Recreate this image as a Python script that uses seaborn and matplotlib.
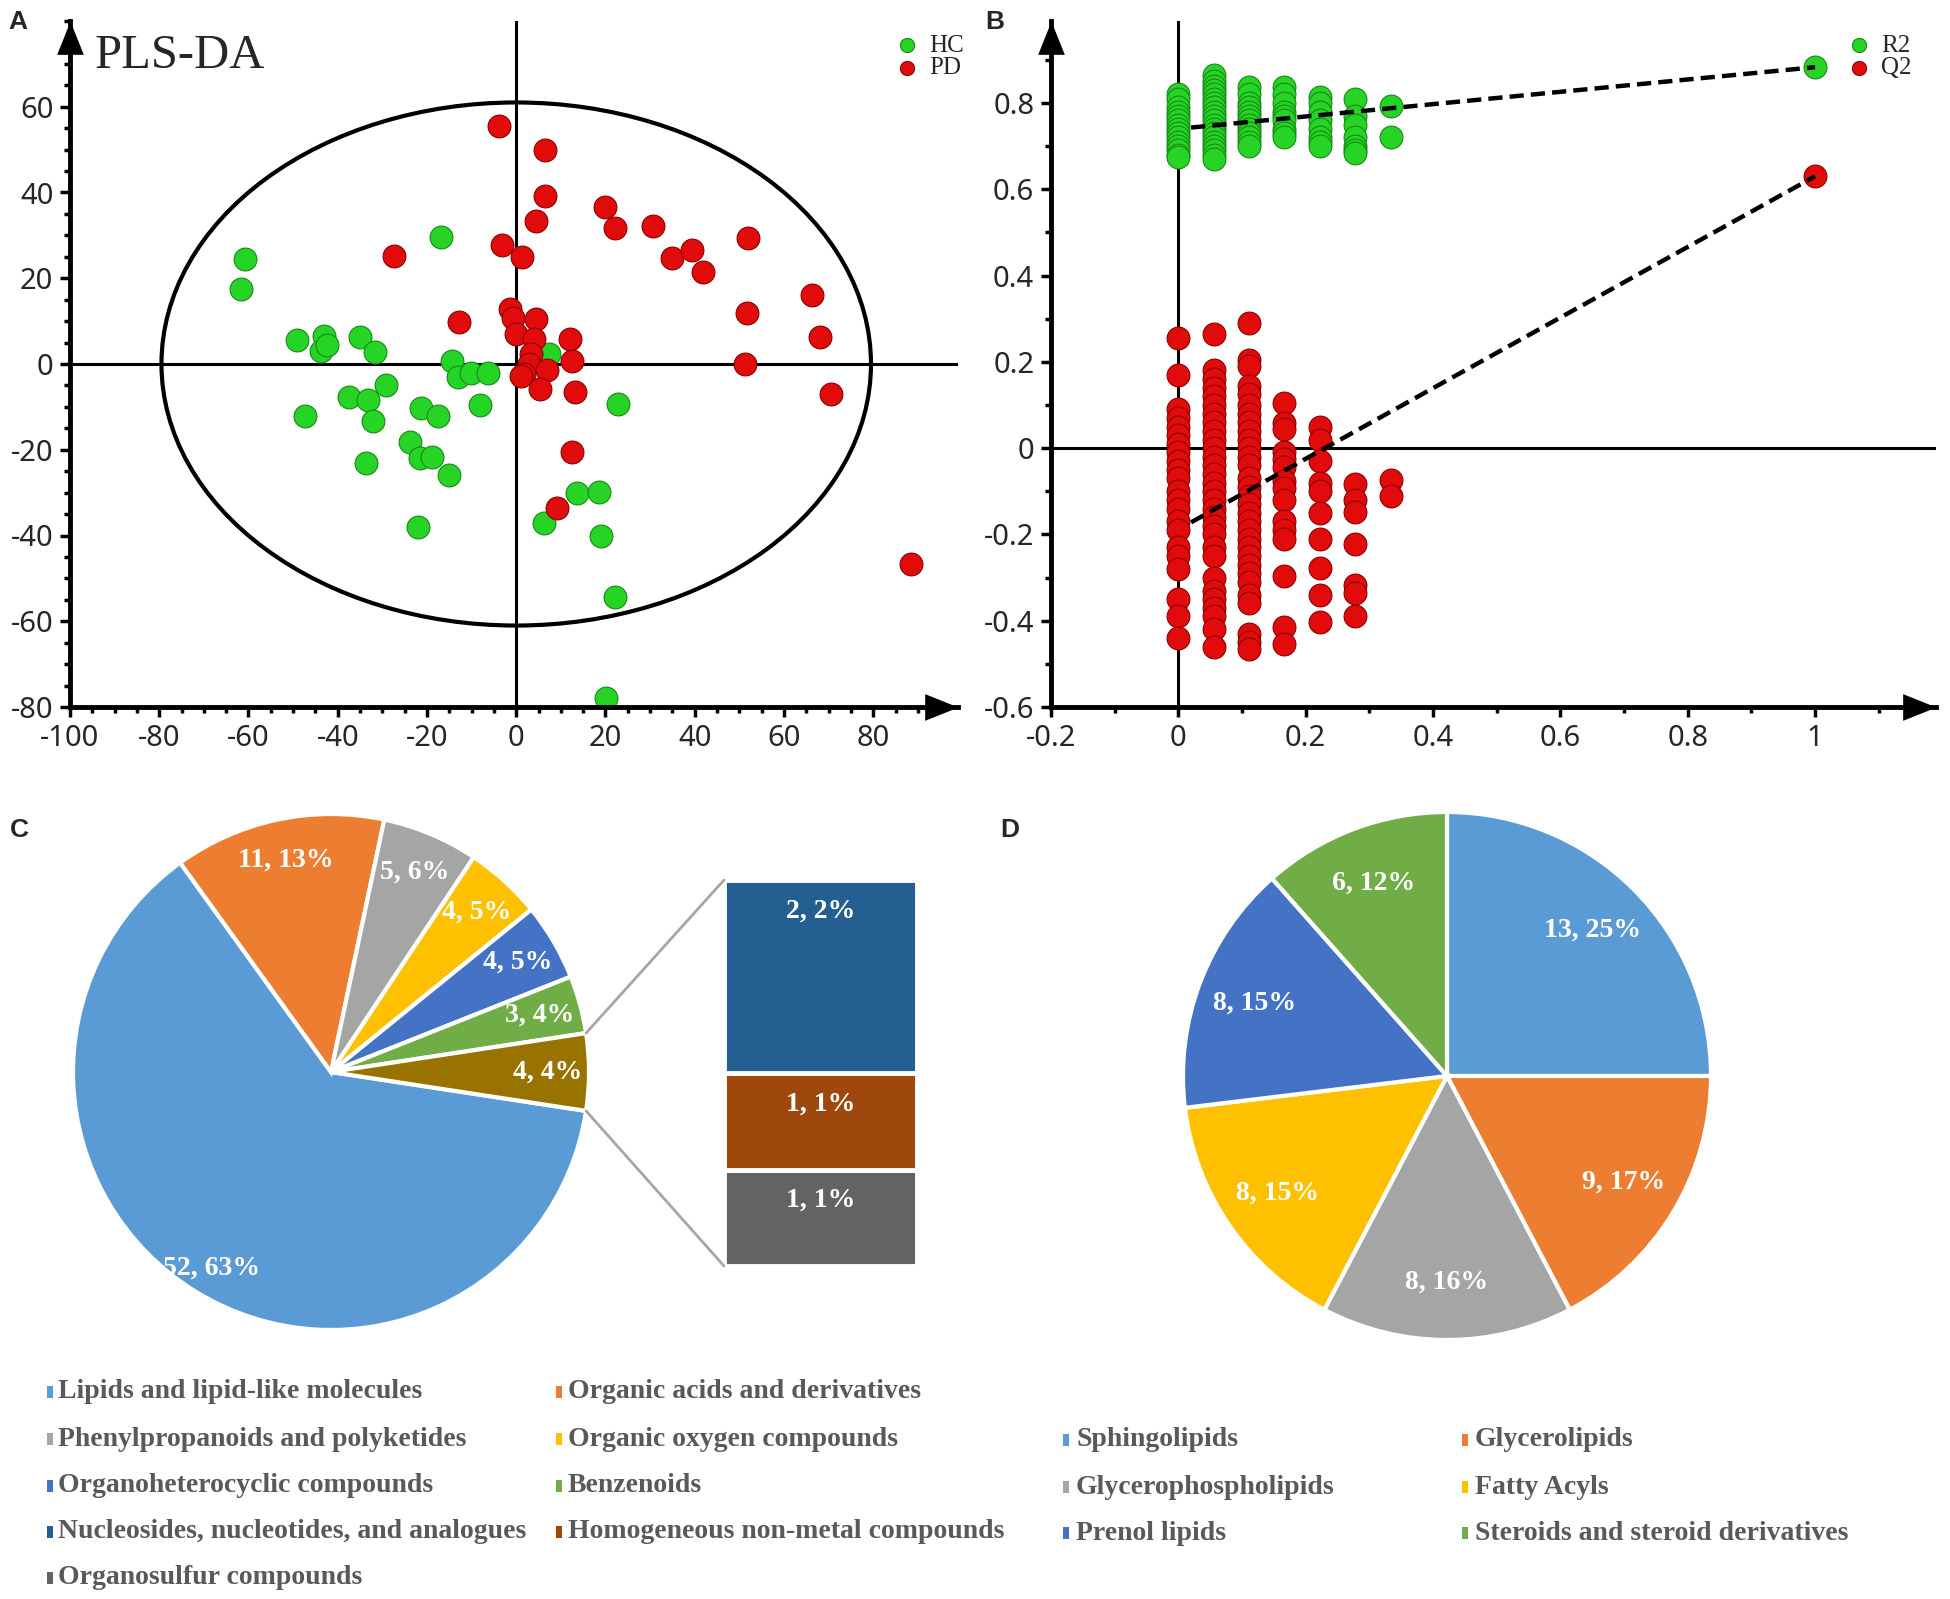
import numpy as np
import pandas as pd
import matplotlib
matplotlib.use('Agg')
import matplotlib.pyplot as plt
import seaborn as sns
from matplotlib.patches import Ellipse, ConnectionPatch, Rectangle
from matplotlib.ticker import FixedLocator, MultipleLocator, FuncFormatter

W, H = 1950, 1599

# ---------------- panel A: PLS-DA scores
hc_t1 = [-60.8, -61.7, -16.9, -49.2, -43.1, -43.8, -42.5, -35.1, -31.6, -14.5,
         -13.0, -10.2, -6.3, 7.4, -29.1, -37.5, -33.3, -47.3, -32.2, -21.4,
         -17.6, -8.1, 22.7, -23.8, -21.5, -18.9, -15.1, -33.6, -22.1, 13.6,
         18.5, 6.3, 18.9, 22.1, 20.1]
hc_t2 = [24.5, 17.6, 29.7, 5.7, 6.6, 3.0, 4.4, 6.2, 2.7, 0.6,
         -3.1, -2.2, -2.2, 2.4, -5.0, -7.8, -8.5, -12.2, -13.4, -10.3,
         -12.2, -9.5, -9.4, -18.3, -22.0, -21.7, -25.8, -23.1, -38.0, -30.1,
         -29.9, -37.1, -40.1, -54.3, -77.8]
pd_t1 = [-3.9, 6.4, 6.4, 4.5, 19.9, 22.2, 30.6, 34.8, 39.4, 41.8,
         52.0, -27.4, -3.1, 1.4, 66.3, 51.7, 68.1, 51.3, 70.5, -12.9,
         -1.5, -0.8, -0.1, 4.5, 3.9, 3.4, 2.8, 1.7, 1.1, 6.9,
         5.3, 12.0, 12.4, 13.1, 12.4, 9.2, 88.4]
pd_t2 = [55.6, 49.9, 39.1, 33.3, 36.6, 31.7, 32.1, 24.8, 26.5, 21.4,
         29.4, 25.3, 27.8, 25.0, 16.0, 12.0, 6.4, 0.0, -6.9, 9.7,
         12.9, 10.8, 7.1, 10.6, 5.8, 2.3, 0.0, -2.3, -2.8, -1.4,
         -5.8, 5.8, 0.6, -6.5, -20.6, -33.5, -46.7]
ellipse_ax = (79.5, 61.0)

# ---------------- panel B: permutation test
perm_x = [0.0, 0.0556, 0.1111, 0.1667, 0.2222, 0.2778, 0.3333, 1.0]
r2_c0 = [0.82, 0.81, 0.79, 0.78, 0.77, 0.76, 0.75, 0.74, 0.73, 0.72, 0.71, 0.70, 0.69, 0.68, 0.675]
r2_c1 = [0.864, 0.85, 0.84, 0.83, 0.82, 0.81, 0.80, 0.79, 0.78, 0.77, 0.76, 0.75, 0.74,
         0.73, 0.72, 0.71, 0.70, 0.69, 0.68, 0.67]
r2_c2 = [0.836, 0.82, 0.80, 0.79, 0.78, 0.77, 0.76, 0.75, 0.74, 0.73, 0.72, 0.71, 0.70]
r2_c3 = [0.838, 0.82, 0.80, 0.78, 0.77, 0.76, 0.74, 0.73, 0.72]
r2_c4 = [0.815, 0.80, 0.78, 0.76, 0.74, 0.72, 0.71, 0.70]
r2_c5 = [0.81, 0.77, 0.75, 0.72, 0.70, 0.69, 0.685]
r2_c6 = [0.793, 0.722]
r2_c7 = [0.883]
q2_c0 = [0.255, 0.17, 0.09, 0.07, 0.05, 0.03, 0.01, -0.01, -0.03, -0.05, -0.07, -0.10,
         -0.12, -0.14, -0.17, -0.19, -0.23, -0.25, -0.28, -0.35, -0.39, -0.44]
q2_c1 = [0.265, 0.18, 0.16, 0.14, 0.12, 0.10, 0.08, 0.06, 0.04, 0.02, 0.0, -0.02, -0.04,
         -0.06, -0.08, -0.10, -0.12, -0.14, -0.16, -0.18, -0.20, -0.23, -0.25, -0.30,
         -0.33, -0.35, -0.37, -0.39, -0.42, -0.46]
q2_c2 = [0.29, 0.205, 0.19, 0.145, 0.125, 0.10, 0.08, 0.06, 0.04, 0.02, 0.0, -0.02, -0.04,
         -0.07, -0.09, -0.11, -0.13, -0.15, -0.17, -0.19, -0.21, -0.23, -0.25, -0.27,
         -0.29, -0.31, -0.34, -0.36, -0.43, -0.45, -0.465]
q2_c3 = [0.104, 0.059, 0.045, -0.01, -0.026, -0.043, -0.077, -0.093, -0.12, -0.17,
         -0.19, -0.21, -0.296, -0.414, -0.454]
q2_c4 = [0.05, 0.02, -0.03, -0.08, -0.10, -0.15, -0.21, -0.277, -0.34, -0.403]
q2_c5 = [-0.082, -0.12, -0.147, -0.223, -0.318, -0.335, -0.39]
q2_c6 = [-0.073, -0.11]
q2_c7 = [0.63]
r2_line_x = [0.02, 1.0]
r2_line_y = [0.743, 0.883]
q2_line_x = [0.02, 1.0]
q2_line_y = [-0.172, 0.63]

# ---------------- panel C: superclass composition
c_names = ['Lipids and lipid-like molecules', 'Organic acids and derivatives',
           'Phenylpropanoids and polyketides', 'Organic oxygen compounds',
           'Organoheterocyclic compounds', 'Benzenoids',
           'Nucleosides, nucleotides, and analogues', 'Homogeneous non-metal compounds',
           'Organosulfur compounds']
c_pie_counts = [52, 11, 5, 4, 4, 3]
c_pie_pct = [63, 13, 6, 5, 5, 4]
c_bar_counts = [2, 1, 1]
c_bar_pct = [2, 1, 1]
c_other_pct = 4
c_colors = ['#5B9BD5', '#ED7D31', '#A5A5A5', '#FFC000', '#4472C4', '#70AD47',
            '#255E91', '#9E480E', '#636363']
c_other_color = '#997300'

# ---------------- panel D: lipid classes
d_names = ['Sphingolipids', 'Glycerolipids', 'Glycerophospholipids', 'Fatty Acyls',
           'Prenol lipids', 'Steroids and steroid derivatives']
d_counts = [13, 9, 8, 8, 8, 6]
d_pct = [25, 17, 16, 15, 15, 12]
d_colors = ['#5B9BD5', '#ED7D31', '#A5A5A5', '#FFC000', '#4472C4', '#70AD47']

sns.set_theme(style='white')
plt.rcParams['font.family'] = ['Noto Sans', 'DejaVu Sans']
plt.rcParams['axes.unicode_minus'] = False

SERIF = 'Liberation Serif'
fig = plt.figure(figsize=(W / 100, H / 100), dpi=100)
fig.patch.set_facecolor('white')

# arrow head shapes, tip at the anchor point
UP_HEAD = [(-0.4, -1.0), (0.4, -1.0), (0.0, 0.0), (-0.4, -1.0)]
RIGHT_HEAD = [(-1.0, -0.4), (-1.0, 0.4), (0.0, 0.0), (-1.0, -0.4)]


def px_axes(left, top, right, bottom):
    return fig.add_axes([left / W, 1 - bottom / H, (right - left) / W, (bottom - top) / H])


def style_axes(ax, xmaj, ymaj, xminor, yminor):
    for side in ['top', 'right']:
        ax.spines[side].set_visible(False)
    for side in ['left', 'bottom']:
        ax.spines[side].set_linewidth(3.5)
        ax.spines[side].set_color('black')
        ax.spines[side].set_zorder(5)
    ax.set_facecolor('white')
    ax.xaxis.set_major_locator(FixedLocator(xmaj))
    ax.yaxis.set_major_locator(FixedLocator(ymaj))
    ax.xaxis.set_minor_locator(MultipleLocator(xminor))
    ax.yaxis.set_minor_locator(MultipleLocator(yminor))
    fmt = FuncFormatter(lambda v, p: '{:g}'.format(round(v, 6)))
    ax.xaxis.set_major_formatter(fmt)
    ax.yaxis.set_major_formatter(fmt)
    ax.tick_params(which='both', direction='out', width=2.5, color='black',
                   labelcolor='#262626', labelsize=21, bottom=True, left=True,
                   top=False, right=False)
    ax.tick_params(which='major', length=7, pad=5)
    ax.tick_params(which='minor', length=4.5)
    ax.plot([0], [1], marker=UP_HEAD, markersize=48, color='black', mew=0,
            transform=ax.transAxes, clip_on=False, zorder=6)
    ax.plot([1], [0], marker=RIGHT_HEAD, markersize=48, color='black', mew=0,
            transform=ax.transAxes, clip_on=False, zorder=6)
    ax.set_xlabel('')
    ax.set_ylabel('')


# ================= A
axA = px_axes(70, 21, 958, 707)
axA.axhline(0, color='black', lw=2.2, zorder=1)
axA.axvline(0, color='black', lw=2.2, zorder=1)
axA.add_patch(Ellipse((0, 0), 2 * ellipse_ax[0], 2 * ellipse_ax[1], fill=False,
                      lw=3, ec='black', zorder=1))
sns.scatterplot(x=hc_t1, y=hc_t2, color='#25d425', edgecolor='#178a17', linewidth=0.8,
                s=270, label='HC', ax=axA, zorder=3)
sns.scatterplot(x=pd_t1, y=pd_t2, color='#e20b0b', edgecolor='#8c0000', linewidth=0.8,
                s=270, label='PD', ax=axA, zorder=3)
axA.set_xlim(-100, 99)
axA.set_ylim(-80, 80)
style_axes(axA, list(range(-100, 81, 20)), list(range(-80, 61, 20)), 5, 5)
axA.legend(loc='upper left', bbox_to_anchor=(882 / W, 1 - 22 / H),
           bbox_transform=fig.transFigure, frameon=False, markerscale=0.62,
           handletextpad=0.4, labelspacing=0.0, borderpad=0, handlelength=1.0,
           prop={'family': SERIF, 'size': 18})
fig.text(95 / W, 1 - 56 / H, 'PLS-DA', family=SERIF, size=35, va='center', ha='left')

# ================= B
axB = px_axes(1051, 21, 1936, 707)
axB.axhline(0, color='black', lw=2.2, zorder=1)
axB.axvline(0, color='black', lw=2.2, zorder=1)
r2_cols = [r2_c0, r2_c1, r2_c2, r2_c3, r2_c4, r2_c5, r2_c6, r2_c7]
q2_cols = [q2_c0, q2_c1, q2_c2, q2_c3, q2_c4, q2_c5, q2_c6, q2_c7]
perm = pd.DataFrame(
    [(x, v, 'R2') for x, col in zip(perm_x, r2_cols) for v in col] +
    [(x, v, 'Q2') for x, col in zip(perm_x, q2_cols) for v in col],
    columns=['cor', 'value', 'stat'])
sns.scatterplot(data=perm[perm.stat == 'R2'], x='cor', y='value', color='#25d425',
                edgecolor='#178a17', linewidth=0.8, s=270, label='R2', ax=axB, zorder=3)
sns.scatterplot(data=perm[perm.stat == 'Q2'], x='cor', y='value', color='#e20b0b',
                edgecolor='#8c0000', linewidth=0.8, s=270, label='Q2', ax=axB, zorder=3)
for lx, ly in [(r2_line_x, r2_line_y), (q2_line_x, q2_line_y)]:
    sns.lineplot(x=lx, y=ly, color='black', lw=3.2, ax=axB, zorder=4)
    axB.lines[-1].set_dashes([3.2, 1.6])
axB.set_xlim(-0.2, 1.19)
axB.set_ylim(-0.6, 0.99)
style_axes(axB, list(np.round(np.arange(-0.2, 1.01, 0.2), 1)),
           list(np.round(np.arange(-0.6, 0.81, 0.2), 1)), 0.1, 0.1)
axB.legend(loc='upper left', bbox_to_anchor=(1834 / W, 1 - 22 / H),
           bbox_transform=fig.transFigure, frameon=False, markerscale=0.62,
           handletextpad=0.4, labelspacing=0.0, borderpad=0, handlelength=1.0,
           prop={'family': SERIF, 'size': 18})

# ================= C  (pie of bar)
cx, cy, cr = 331, 1072, 258
axC = px_axes(cx - cr, cy - cr, cx + cr, cy + cr)
other = sum(c_bar_counts)
pie_counts = c_pie_counts + [other]
pie_pct = c_pie_pct + [c_other_pct]
total = sum(pie_counts)
wedges, _ = axC.pie(pie_counts, colors=c_colors[:6] + [c_other_color],
                    startangle=-180 * other / total, counterclock=False,
                    wedgeprops=dict(edgecolor='white', linewidth=3))
axC.set_xlim(-1, 1)
axC.set_ylim(-1, 1)
axC.axis('off')
for w, n, p in zip(wedges, pie_counts, pie_pct):
    th = np.deg2rad((w.theta1 + w.theta2) / 2)
    rr = 0.89 if n == max(pie_counts) else 0.84
    axC.text(rr * np.cos(th), rr * np.sin(th), '{}, {}%'.format(n, p), color='white',
             family=SERIF, weight='bold', size=20, ha='center', va='center')

axBar = px_axes(724, 880, 917, 1266)
bottom = 0
for n, p, col in reversed(list(zip(c_bar_counts, c_bar_pct, c_colors[6:]))):
    axBar.bar(0, n, bottom=bottom, width=1, color=col, edgecolor='white', lw=3.5)
    axBar.text(0, bottom + n - 0.32, '{}, {}%'.format(n, p), color='white', family=SERIF,
               weight='bold', size=20, ha='center', va='center')
    bottom += n
axBar.set_xlim(-0.5, 0.5)
axBar.set_ylim(0, other)
axBar.axis('off')

ow = wedges[-1]
ends = sorted([(np.cos(np.deg2rad(t)), np.sin(np.deg2rad(t))) for t in (ow.theta1, ow.theta2)],
              key=lambda v: v[1])
for (px, py), by in zip(ends, [0, other]):
    fig.add_artist(ConnectionPatch(xyA=(px, py), coordsA=axC.transData,
                                   xyB=(-0.5, by), coordsB=axBar.transData,
                                   color='#A6A6A6', lw=2))

# ================= D
dx, dy, dr = 1447, 1076, 264
axD = px_axes(dx - dr, dy - dr, dx + dr, dy + dr)
wedgesD, _ = axD.pie(d_counts, colors=d_colors, startangle=90, counterclock=False,
                     wedgeprops=dict(edgecolor='white', linewidth=3))
axD.set_xlim(-1, 1)
axD.set_ylim(-1, 1)
axD.axis('off')
for w, n, p in zip(wedgesD, d_counts, d_pct):
    th = np.deg2rad((w.theta1 + w.theta2) / 2)
    axD.text(0.78 * np.cos(th), 0.78 * np.sin(th), '{}, {}%'.format(n, p), color='white',
             family=SERIF, weight='bold', size=20, ha='center', va='center')


# ================= bottom legends
def draw_legend(names, colors, rows_y, marker_x, text_x):
    for i, (name, col) in enumerate(zip(names, colors)):
        y = rows_y[i // 2]
        c = i % 2
        fig.add_artist(Rectangle((marker_x[c] / W, 1 - (y + 6) / H), 6 / W, 12 / H,
                                 transform=fig.transFigure, color=col, lw=0))
        fig.text(text_x[c] / W, 1 - y / H, name, family=SERIF, weight='bold', size=20,
                 color='#595959', ha='left', va='center')


draw_legend(c_names, c_colors, [1392, 1439, 1486, 1532, 1578], [47, 556], [58, 568])
draw_legend(d_names, d_colors, [1440, 1487, 1533], [1063, 1462], [1076, 1475])

# panel letters
for lab, x, y in [('A', 8, 22), ('B', 985, 22), ('C', 10, 830), ('D', 1000, 830)]:
    fig.text(x / W, 1 - y / H, lab, family='Liberation Sans', weight='bold', size=19,
             ha='left', va='center')

fig.savefig('out.png', dpi=100, facecolor='white')
